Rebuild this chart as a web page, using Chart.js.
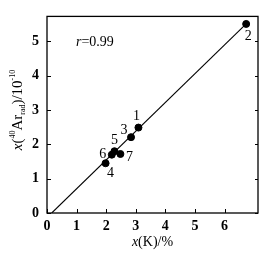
<!DOCTYPE html>
<html>
<head>
<meta charset="utf-8">
<script src="https://cdn.jsdelivr.net/npm/chart.js@4/dist/chart.umd.min.js"></script>
<style>
  html, body { margin: 0; padding: 0; background: #fff; }
  #wrap { width: 271px; height: 257px; }
</style>
</head>
<body>
<div id="wrap"><canvas id="c"></canvas></div>
<script>
// data
const sampleIds = ["1", "2", "3", "4", "5", "6", "7"];
const potassium = [3.09, 6.73, 2.84, 1.98, 2.28, 2.19, 2.48];   // x(K)/%
const argon = [2.49, 5.51, 2.21, 1.45, 1.80, 1.70, 1.72];       // x(40Ar rad)/1e-10
const fitX = [0.16, 6.73];
const fitY = [0.00, 5.51];
const xTicks = [0, 1, 2, 3, 4, 5, 6];
const yTicks = [0, 1, 2, 3, 4, 5];

// where the number sits next to its dot (px)
const labelOffsets = [[-2, -11], [2, 12], [-7, -7], [5, 10], [0, -11], [-9, 0], [9, 3]];

const serif = "'Liberation Serif', 'DejaVu Serif', serif";

const framePlugin = {
  id: "frame",
  afterDraw(chart) {
    const ctx = chart.ctx;
    const a = chart.chartArea;
    const xs = chart.scales.x, ys = chart.scales.y;
    ctx.save();
    ctx.strokeStyle = "#000";
    ctx.lineWidth = 1.3;
    ctx.strokeRect(a.left, a.top, a.right - a.left, a.bottom - a.top);

    // inward tick marks
    ctx.lineWidth = 1;
    ctx.beginPath();
    xTicks.forEach(v => {
      const px = Math.round(xs.getPixelForValue(v)) + 0.5;
      ctx.moveTo(px, a.bottom);
      ctx.lineTo(px, a.bottom - 4);
    });
    yTicks.forEach(v => {
      const py = Math.round(ys.getPixelForValue(v)) + 0.5;
      ctx.moveTo(a.left, py);
      ctx.lineTo(a.left + 4, py);
      ctx.moveTo(a.right, py);
      ctx.lineTo(a.right - 3, py);
    });
    ctx.stroke();

    // point numbers
    ctx.fillStyle = "#000";
    ctx.font = "14px " + serif;
    ctx.textAlign = "center";
    ctx.textBaseline = "middle";
    sampleIds.forEach((id, i) => {
      const px = xs.getPixelForValue(potassium[i]) + labelOffsets[i][0];
      const py = ys.getPixelForValue(argon[i]) + labelOffsets[i][1];
      ctx.fillText(id, px, py);
    });

    // correlation note
    ctx.textAlign = "left";
    ctx.font = "italic 14px " + serif;
    ctx.fillText("r", 76, 42);
    const rw = ctx.measureText("r").width;
    ctx.font = "14px " + serif;
    ctx.fillText("=0.99", 76 + rw, 42);

    // x axis title: x(K)/%
    ctx.textBaseline = "alphabetic";
    const xt = [["italic 14px ", "x"], ["14px ", "(K)/%"]];
    let w = 0;
    xt.forEach(p => { ctx.font = p[0] + serif; w += ctx.measureText(p[1]).width; });
    let cx = (a.left + a.right) / 2 - w / 2;
    xt.forEach(p => { ctx.font = p[0] + serif; ctx.fillText(p[1], cx, 246); cx += ctx.measureText(p[1]).width; });

    // y axis title: x(40Ar rad)/10^-10, rotated
    const yt = [
      ["italic 15px ", "x", 0], ["15px ", "(", 0], ["8px ", "40", -7],
      ["15px ", "Ar", 0], ["8px ", "rad", 3], ["15px ", ")/10", 0], ["8px ", "-10", -7]
    ];
    w = 0;
    yt.forEach(p => { ctx.font = p[0] + serif; w += ctx.measureText(p[1]).width; });
    ctx.translate(22, 110);
    ctx.rotate(-Math.PI / 2);
    cx = -w / 2;
    yt.forEach(p => { ctx.font = p[0] + serif; ctx.fillText(p[1], cx, p[2]); cx += ctx.measureText(p[1]).width; });
    ctx.restore();
  }
};

new Chart(document.getElementById("c"), {
  type: "scatter",
  data: {
    datasets: [
      {
        data: potassium.map((v, i) => ({ x: v, y: argon[i] })),
        backgroundColor: "#000",
        borderColor: "#000",
        pointRadius: 3.5,
        pointHoverRadius: 3.5
      },
      {
        type: "line",
        data: fitX.map((v, i) => ({ x: v, y: fitY[i] })),
        borderColor: "#000",
        borderWidth: 1.1,
        pointRadius: 0,
        fill: false
      }
    ]
  },
  options: {
    responsive: true,
    maintainAspectRatio: false,
    animation: false,
    layout: { padding: { top: 12, right: 13, left: 0, bottom: 0 } },
    plugins: { legend: { display: false }, tooltip: { enabled: false } },
    scales: {
      x: {
        type: "linear",
        min: 0,
        max: 7.13,
        afterBuildTicks: s => { s.ticks = xTicks.map(v => ({ value: v })); },
        afterFit: s => { s.height = 44; },
        grid: { display: false, drawTicks: false },
        border: { display: false },
        ticks: { color: "#000", padding: 5, font: { family: serif, size: 14, weight: "bold" } }
      },
      y: {
        min: 0,
        max: 5.73,
        afterBuildTicks: s => { s.ticks = yTicks.map(v => ({ value: v })); },
        afterFit: s => { s.width = 47; },
        grid: { display: false, drawTicks: false },
        border: { display: false },
        ticks: { color: "#000", padding: 8, font: { family: serif, size: 14, weight: "bold" } }
      }
    }
  },
  plugins: [framePlugin]
});
</script>
</body>
</html>
